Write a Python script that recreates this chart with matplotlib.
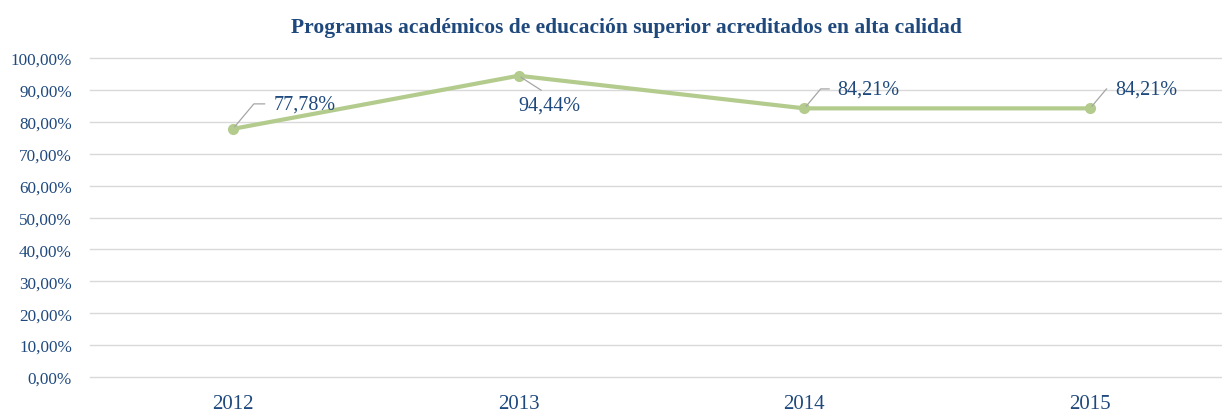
import matplotlib.pyplot as plt
from matplotlib.ticker import FuncFormatter

years = ["2012", "2013", "2014", "2015"]
acreditados = [0.7778, 0.9444, 0.8421, 0.8421]
etiquetas = ["77,78%", "94,44%", "84,21%", "84,21%"]

# label offsets (points) relative to each point
offsets = [(29, 18), (22, -21), (24, 14), (18, 14)]

azul = "#1F497D"
verde = "#B4CB8E"
plt.rcParams["font.family"] = ["Liberation Serif", "DejaVu Serif"]

fig = plt.figure(figsize=(12.22, 4.14), dpi=100)
ax = fig.add_axes([90 / 1222, 36 / 414, 1.0 - 90 / 1222 + 0.009, (378 - 59) / 414])

x = list(range(len(years)))
ax.plot(x, acreditados, color=verde, lw=3, marker="o", ms=7, zorder=3)

for i, (v, lab) in enumerate(zip(acreditados, etiquetas)):
    dx, dy = offsets[i]
    if dy > 0:
        ax.annotate(lab, (i, v), xytext=(dx, dy), textcoords="offset points",
                    ha="left", va="center", fontsize=14.5, color=azul,
                    arrowprops=dict(arrowstyle="-", color="#A6A6A6", lw=0.9,
                                    relpos=(0, 0.5), shrinkA=4, shrinkB=2,
                                    connectionstyle="angle,angleA=0,angleB=50,rad=0"))
    else:
        ax.annotate(lab, (i, v), xytext=(dx, dy), textcoords="offset points",
                    ha="center", va="center", fontsize=14.5, color=azul,
                    arrowprops=dict(arrowstyle="-", color="#A6A6A6", lw=0.9,
                                    relpos=(0.5, 1), shrinkA=3, shrinkB=2))

ax.set_ylim(0, 1)
ax.set_yticks([i / 10 for i in range(11)])
ax.yaxis.set_major_formatter(FuncFormatter(lambda v, p: f"{v*100:.2f}%".replace(".", ",")))
ax.set_xlim(-0.5, 3.5)
ax.set_xticks(x)
ax.set_xticklabels(years)
ax.tick_params(axis="y", length=0, pad=13, labelsize=12.3, labelcolor=azul)
ax.tick_params(axis="x", length=0, pad=12, labelsize=15, labelcolor=azul)
ax.grid(axis="y", color="#D9D9D9", lw=1)
for gl in ax.get_ygridlines():
    gl.set_clip_on(False)
ax.set_axisbelow(True)
for s in ax.spines.values():
    s.set_visible(False)

fig.text(0.513, 0.932, "Programas académicos de educación superior acreditados en alta calidad",
         ha="center", va="center", fontsize=15.5, fontweight="bold", color=azul)

fig.savefig("out.png", dpi=100)
